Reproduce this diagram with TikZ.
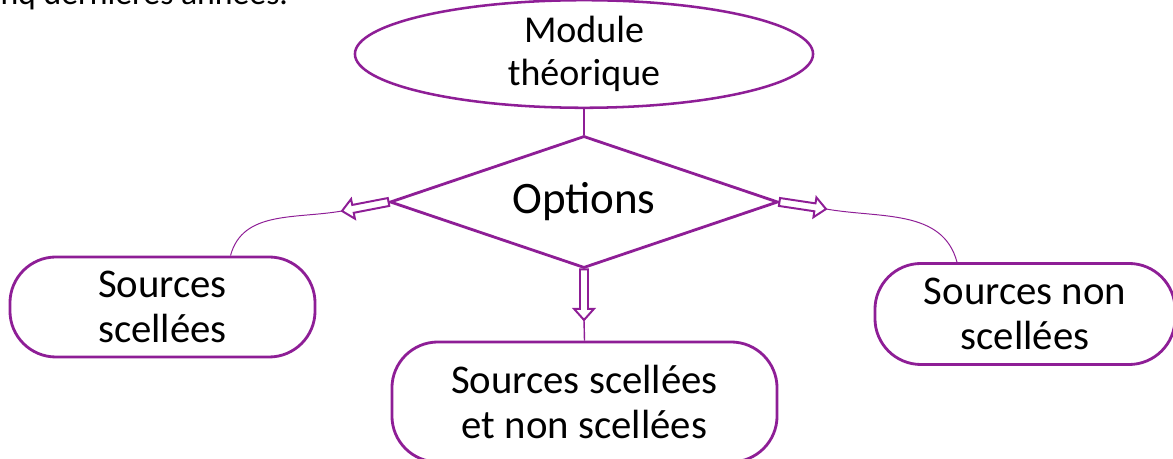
\documentclass[tikz,border=0pt]{standalone}
\usepackage{fontspec}
\setmainfont{Carlito}
\usetikzlibrary{shapes.geometric,calc}
\definecolor{prune}{RGB}{142,30,150}

\tikzset{
  boite/.style={draw=prune, line width=2pt, rounded corners=1.15cm, align=center,
    inner sep=0pt, font=\fontsize{29}{32}\selectfont},
  lien/.style={draw=prune, line width=0.7pt},
  fleche/.style={draw=prune, fill=white, line width=1.4pt}
}

%% fleche creuse de #1 vers #2
\newcommand{\flechecreuse}[2]{%
  \draw[fleche] ($(#1)!0.1cm!90:(#2)$)
    -- ($(#2)!0.28cm!(#1)!0.1cm!90:(#2)$)
    -- ($(#2)!0.28cm!(#1)!0.25cm!90:(#2)$)
    -- (#2)
    -- ($(#2)!0.28cm!(#1)!0.25cm!-90:(#2)$)
    -- ($(#2)!0.28cm!(#1)!0.1cm!-90:(#2)$)
    -- ($(#1)!0.1cm!-90:(#2)$) -- cycle;}

\begin{document}
\begin{tikzpicture}[x=0.025cm,y=0.025cm]
\useasboundingbox (0,0) rectangle (1173,459);

\node[anchor=base east, font=\fontsize{24}{28}\selectfont] (intro) at (293,454) {nq dernières années.};

%% noeuds
\node[ellipse, draw=prune, line width=1.8pt, minimum width=11.45cm, minimum height=2.2cm,
  inner sep=0pt, align=center, font=\fontsize{27}{31}\selectfont] (module) at (584,405) {Module\\théorique};
\node[diamond, aspect=2.94, draw=prune, line width=2pt, minimum width=9.7cm, minimum height=3.3cm,
  inner sep=0pt, font=\fontsize{32}{36}\selectfont] (options) at (584,257) {Options};
\node[boite, minimum width=7.625cm, minimum height=2.5cm] (scellees) at (162.5,152) {Sources\\scellées};
\node[boite, minimum width=7.5cm, minimum height=2.525cm] (nonscellees) at (1025,145) {Sources non\\scellées};
\node[boite, minimum width=9.625cm, minimum height=3cm] (lesdeux) at (584.5,57) {Sources scellées\\et non scellées};

%% points libres
\coordinate (fg) at (342,248);
\coordinate (fd) at (826,250);
\coordinate (fb) at (584,139);

%% liens
\draw[lien, line width=1pt] (module.south) -- (options.north);
\draw[lien] (fg) to[out=190,in=75] ([xshift=1.7cm]scellees.north);
\draw[lien] (fd) to[out=-10,in=105] ([xshift=-1.7cm]nonscellees.north);
\draw[lien, line width=1pt] (fb) -- (lesdeux.north);

%% fleches
\flechecreuse{options.west}{fg}
\flechecreuse{options.east}{fd}
\flechecreuse{options.south}{fb}

\end{tikzpicture}
\end{document}
